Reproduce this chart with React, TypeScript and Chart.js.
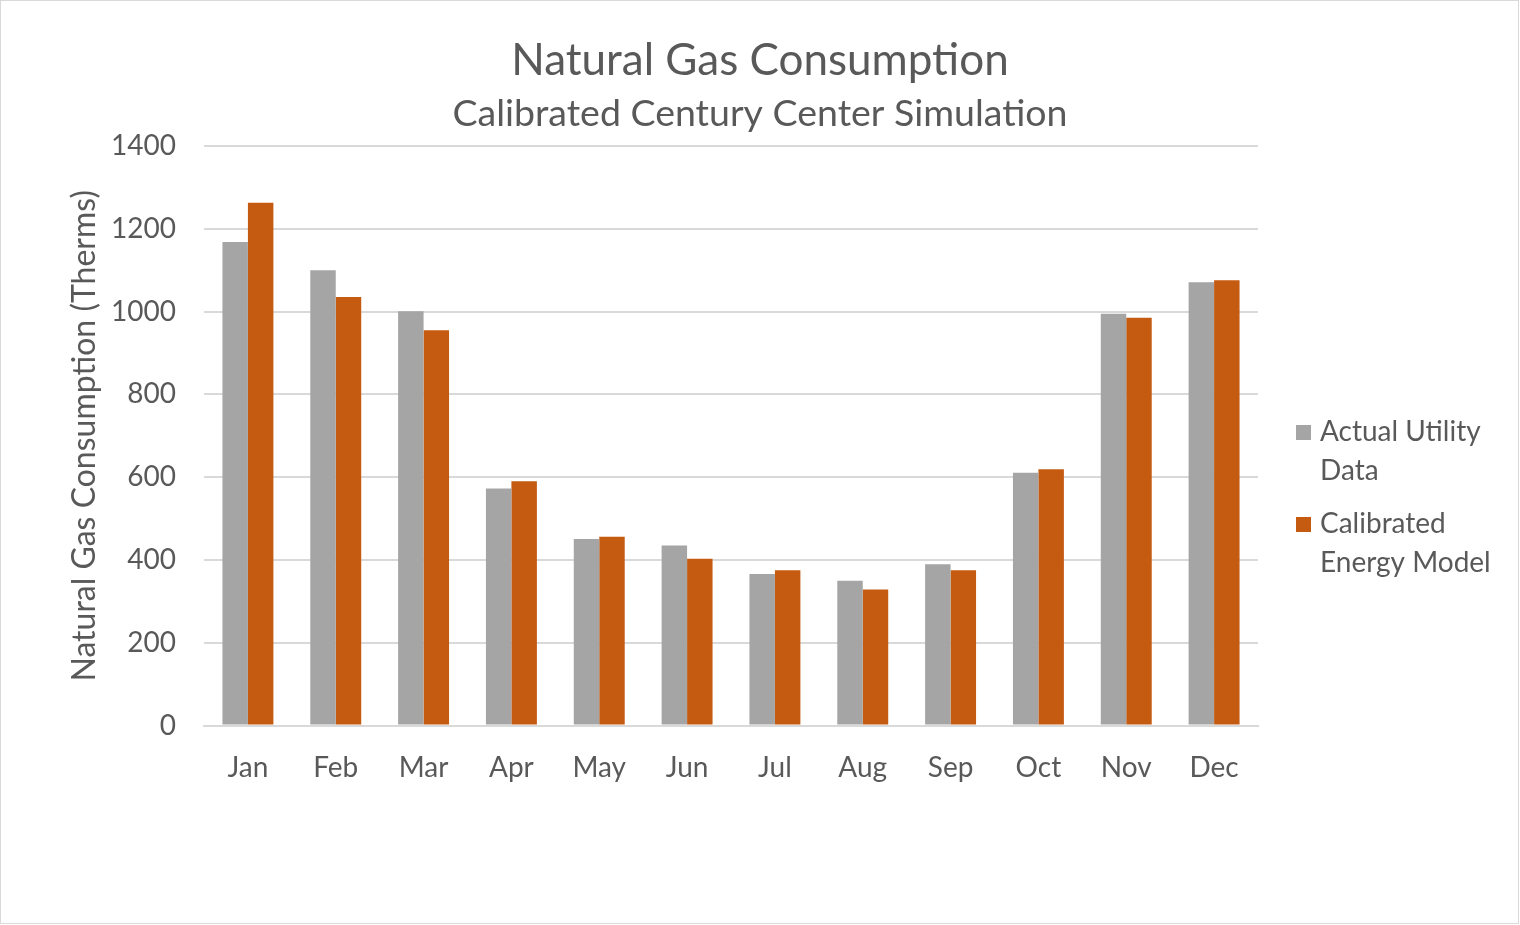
import React, { useEffect, useRef } from "react";
import { Chart, registerables } from "chart.js";

Chart.register(...registerables);

const months = ["Jan", "Feb", "Mar", "Apr", "May", "Jun", "Jul", "Aug", "Sep", "Oct", "Nov", "Dec"];
const actualUtility = [1168, 1100, 1001, 573, 451, 435, 366, 350, 390, 611, 995, 1071];
const calibratedModel = [1263, 1035, 955, 590, 456, 403, 375, 329, 375, 619, 985, 1076];
const seriesNames = ["Actual Utility Data", "Calibrated Energy Model"];
const legendLines = [["Actual Utility", "Data"], ["Calibrated", "Energy Model"]];
const titleText = "Natural Gas Consumption";
const subtitleText = "Calibrated Century Center Simulation";
const yAxisTitle = "Natural Gas Consumption (Therms)";
const yMin = 0;
const yMax = 1400;
const yStep = 200;

const GRAY = "#A5A5A5";
const ORANGE = "#C55A11";
const TEXT = "#595959";
const GRID = "#D9D9D9";
const FONT = "Lato";

export default function App() {
  const ref = useRef<HTMLCanvasElement | null>(null);

  useEffect(() => {
    document.body.style.margin = "0";
    const canvas = ref.current;
    if (!canvas) return;

    const frameAndLegend = {
      id: "frameAndLegend",
      beforeDraw(chart: any) {
        const { ctx, width, height } = chart;
        ctx.save();
        ctx.fillStyle = "#ffffff";
        ctx.fillRect(0, 0, width, height);
        ctx.strokeStyle = GRID;
        ctx.lineWidth = 1;
        ctx.strokeRect(0.5, 0.5, width - 2, height - 2);
        ctx.restore();
      },
      afterDraw(chart: any) {
        const { ctx } = chart;
        const area = chart.chartArea;
        ctx.save();
        const x0 = area.right + 38;
        const starts = [432, 524];
        const lh = 38.5;
        ctx.font = `28px ${FONT}`;
        ctx.textBaseline = "middle";
        ctx.textAlign = "left";
        chart.data.datasets.forEach((ds: any, i: number) => {
          ctx.fillStyle = ds.backgroundColor;
          ctx.fillRect(x0, starts[i] - 7, 15, 15);
          ctx.fillStyle = TEXT;
          legendLines[i].forEach((line, j) => {
            ctx.fillText(line, x0 + 24, starts[i] + j * lh);
          });
        });
        ctx.restore();
      },
    };

    const chart = new Chart(canvas, {
      type: "bar",
      data: {
        labels: months,
        datasets: [
          { label: seriesNames[0], data: actualUtility, backgroundColor: GRAY },
          { label: seriesNames[1], data: calibratedModel, backgroundColor: ORANGE },
        ],
      },
      options: {
        animation: false,
        responsive: true,
        maintainAspectRatio: false,
        layout: { padding: { top: 10, right: 0, bottom: 0, left: 0 } },
        datasets: { bar: { categoryPercentage: 0.58, barPercentage: 1.0 } },
        plugins: {
          legend: { display: false },
          tooltip: { enabled: false },
          title: {
            display: true,
            text: titleText,
            color: TEXT,
            font: { family: FONT, size: 44, weight: "normal" },
            padding: { top: 24.4, bottom: 0 },
          },
          subtitle: {
            display: true,
            text: subtitleText,
            color: TEXT,
            font: { family: FONT, size: 37.5, weight: "normal" },
            padding: { top: 4, bottom: 9.8 },
          },
        },
        scales: {
          x: {
            grid: { display: false, drawTicks: false },
            border: { display: true, color: GRID, width: 2 },
            ticks: { color: TEXT, font: { family: FONT, size: 28 }, padding: 26 },
            afterFit(scale: any) {
              scale.height = 925 - 725.6;
            },
          },
          y: {
            min: yMin,
            max: yMax,
            ticks: {
              stepSize: yStep,
              color: TEXT,
              font: { family: FONT, size: 28 },
              padding: 28,
              callback: (v: any) => String(v),
            },
            grid: { color: GRID, lineWidth: 2, drawTicks: false },
            border: { display: false },
            title: {
              display: true,
              text: yAxisTitle,
              color: TEXT,
              font: { family: FONT, size: 32, weight: "normal" },
              padding: { top: 65.8, bottom: 0 },
            },
            afterFit(scale: any) {
              scale.width = 204;
            },
          },
          legendSpace: {
            type: "linear",
            position: "right",
            display: true,
            grid: { display: false, drawTicks: false },
            border: { display: false },
            ticks: { display: false },
            afterFit(scale: any) {
              scale.width = 262;
            },
          },
        },
      },
      plugins: [frameAndLegend],
    });

    return () => chart.destroy();
  }, []);

  return (
    <div style={{ width: 1520, height: 925, position: "relative" }}>
      <canvas ref={ref} />
    </div>
  );
}
